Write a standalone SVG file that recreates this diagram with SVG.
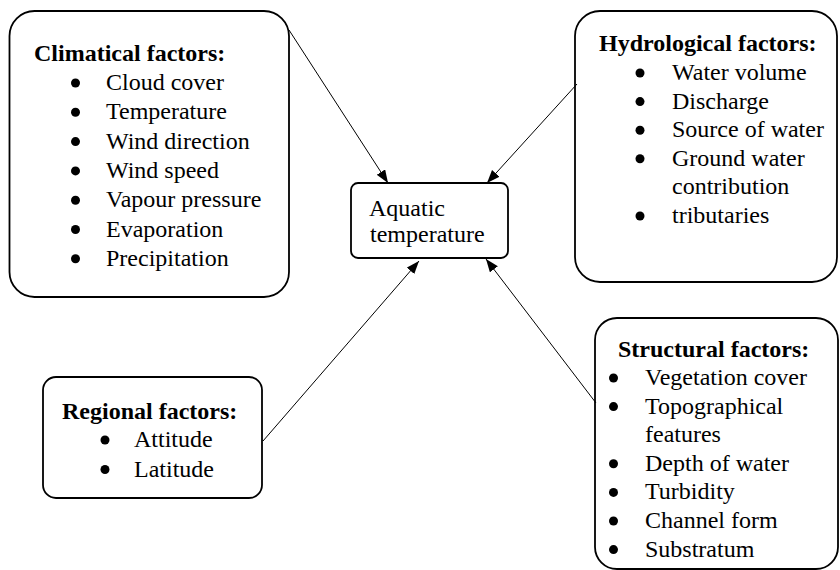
<svg xmlns="http://www.w3.org/2000/svg" width="840" height="570" viewBox="0 0 840 570">
<defs>
<marker id="arr" markerUnits="userSpaceOnUse" markerWidth="14" markerHeight="12" refX="13" refY="5" orient="auto">
<path d="M0,0 L13,5 L0,10 z" fill="#000"/>
</marker>
<style>
.box{fill:#fff;stroke:#000;stroke-width:1.8}
.t{font-size:24px;fill:#000}
.b{font-weight:bold}
.conn{stroke:#000;stroke-width:1;fill:none;marker-end:url(#arr)}
.dot{fill:#000}
</style>
</defs>
<rect width="840" height="570" fill="#fff"/>
<g font-family="Liberation Serif, Times New Roman, serif">
<g id="climatical">
<rect class="box" x="9.5" y="11" width="279.5" height="286" rx="25" ry="25"/>
<text class="t b" x="34" y="61">Climatical factors:</text>
<circle class="dot" cx="75.5" cy="83" r="4.5"/><text class="t" x="106" y="90">Cloud cover</text>
<circle class="dot" cx="75.5" cy="112.3" r="4.5"/><text class="t" x="106" y="119.3">Temperature</text>
<circle class="dot" cx="75.5" cy="141.6" r="4.5"/><text class="t" x="106" y="148.6">Wind direction</text>
<circle class="dot" cx="75.5" cy="170.9" r="4.5"/><text class="t" x="106" y="177.9">Wind speed</text>
<circle class="dot" cx="75.5" cy="200.2" r="4.5"/><text class="t" x="106" y="207.2">Vapour pressure</text>
<circle class="dot" cx="75.5" cy="229.5" r="4.5"/><text class="t" x="106" y="236.5">Evaporation</text>
<circle class="dot" cx="75.5" cy="258.8" r="4.5"/><text class="t" x="106" y="265.8">Precipitation</text>
</g>
<g id="hydrological">
<rect class="box" x="575" y="11" width="262" height="271" rx="25" ry="25"/>
<text class="t b" x="599" y="51">Hydrological factors:</text>
<circle class="dot" cx="640" cy="73" r="4.5"/><text class="t" x="672" y="80">Water volume</text>
<circle class="dot" cx="640" cy="101.6" r="4.5"/><text class="t" x="672" y="108.6">Discharge</text>
<circle class="dot" cx="640" cy="130.2" r="4.5"/><text class="t" x="672" y="137.2">Source of water</text>
<circle class="dot" cx="640" cy="158.8" r="4.5"/><text class="t" x="672" y="165.8">Ground water</text>
<text class="t" x="672" y="194.4">contribution</text>
<circle class="dot" cx="640" cy="216" r="4.5"/><text class="t" x="672" y="223">tributaries</text>
</g>
<g id="aquatic">
<rect class="box" x="351" y="183" width="157" height="75" rx="7" ry="7"/>
<text class="t" x="369" y="216">Aquatic</text>
<text class="t" x="370" y="242">temperature</text>
</g>
<g id="regional">
<rect class="box" x="43" y="377" width="219" height="121" rx="13" ry="13"/>
<text class="t b" x="62" y="419">Regional factors:</text>
<circle class="dot" cx="105" cy="440" r="4.5"/><text class="t" x="134" y="447">Attitude</text>
<circle class="dot" cx="105" cy="469.5" r="4.5"/><text class="t" x="134" y="476.5">Latitude</text>
</g>
<g id="structural">
<rect class="box" x="595" y="318" width="243" height="251" rx="22" ry="22"/>
<text class="t b" x="618" y="357">Structural factors:</text>
<circle class="dot" cx="613.5" cy="378" r="4.5"/><text class="t" x="645" y="385">Vegetation cover</text>
<circle class="dot" cx="613.5" cy="406.6" r="4.5"/><text class="t" x="645" y="413.6">Topographical</text>
<text class="t" x="645" y="442.2">features</text>
<circle class="dot" cx="613.5" cy="463.8" r="4.5"/><text class="t" x="645" y="470.8">Depth of water</text>
<circle class="dot" cx="613.5" cy="492.4" r="4.5"/><text class="t" x="645" y="499.4">Turbidity</text>
<circle class="dot" cx="613.5" cy="521" r="4.5"/><text class="t" x="645" y="528">Channel form</text>
<circle class="dot" cx="613.5" cy="549.6" r="4.5"/><text class="t" x="645" y="556.6">Substratum</text>
</g>
</g>
<g id="connectors">
<line class="conn" x1="289" y1="30" x2="388" y2="183"/>
<line class="conn" x1="577" y1="84" x2="487" y2="183"/>
<line class="conn" x1="263" y1="441" x2="419" y2="261"/>
<line class="conn" x1="596" y1="403" x2="486" y2="259"/>
</g>
</svg>
